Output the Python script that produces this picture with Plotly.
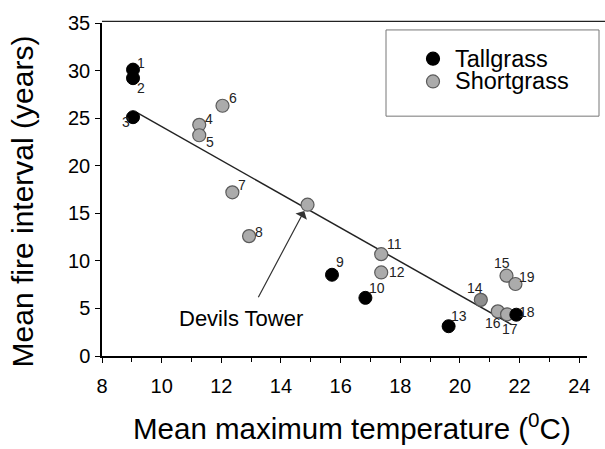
import plotly.graph_objects as go

# ---- data ----
tall_id = ["1", "2", "3", "9", "10", "13", "18"]
tall_x = [9.04, 9.04, 9.04, 15.71, 16.83, 19.62, 21.89]
tall_y = [30.1, 29.2, 25.1, 8.54, 6.11, 3.13, 4.34]

short_id = ["4", "5", "6", "7", "8", "", "11", "12", "14", "15", "19", "16", "17"]
short_x = [11.26, 11.26, 12.04, 12.37, 12.93, 14.89, 17.36, 17.36, 20.70, 21.56, 21.86, 21.27, 21.58]
short_y = [24.3, 23.2, 26.3, 17.2, 12.6, 15.9, 10.7, 8.78, 5.9, 8.44, 7.57, 4.69, 4.38]

fit_x = [9.16, 21.73]
fit_y = [25.6, 3.3]

devils_tower = (14.89, 15.9)

x_ticks = [8, 10, 12, 14, 16, 18, 20, 22, 24]
y_ticks = [0, 5, 10, 15, 20, 25, 30, 35]

# ---- styling / label placement (pixels) ----
label_offsets = {
    "1": (8, -7), "2": (8, 10), "3": (-7, 5), "4": (10, -6), "5": (11, 7),
    "6": (10, -8), "7": (10, -7), "8": (10, -4), "9": (8, -13), "10": (12, -10),
    "11": (13, -10), "12": (16, 0), "13": (10, -10), "14": (-6, -12),
    "15": (-4, -13), "19": (12, -7), "16": (-5, 12), "17": (3, 15), "18": (11, -3),
}
FONT = "Liberation Sans, Arial, sans-serif"
W, H = 605, 449
L, R, T, B = 102, 18, 20, 93
PW, PH = W - L - R, H - T - B


def px2paper(px, py):
    return (px - L) / PW, (H - B - py) / PH


fig = go.Figure()

fig.add_trace(go.Scatter(x=fit_x, y=fit_y, mode="lines",
                         line=dict(color="#222222", width=1.5),
                         showlegend=False, hoverinfo="skip"))

short_colors = ["#8e8e8e" if s == "14" else "#ababab" for s in short_id]
fig.add_trace(go.Scatter(x=short_x, y=short_y, mode="markers", name="Shortgrass",
                         marker=dict(size=13, color=short_colors,
                                     line=dict(color="#5a5a5a", width=1.2)),
                         showlegend=False))
fig.add_trace(go.Scatter(x=tall_x, y=tall_y, mode="markers", name="Tallgrass",
                         marker=dict(size=13, color="black",
                                     line=dict(color="black", width=1)),
                         showlegend=False))

annotations = []
for ids, xs, ys in ((tall_id, tall_x, tall_y), (short_id, short_x, short_y)):
    for i, xv, yv in zip(ids, xs, ys):
        if not i:
            continue
        dx, dy = label_offsets[i]
        annotations.append(dict(x=xv, y=yv, text=i, showarrow=False,
                                xshift=dx, yshift=-dy,
                                font=dict(family=FONT, size=14, color="#222222")))

# Devils Tower arrow and label
annotations.append(dict(x=devils_tower[0], y=devils_tower[1], text="",
                        showarrow=True, ax=-50, ay=94, axref="pixel", ayref="pixel",
                        arrowhead=1, arrowsize=1.8, arrowwidth=1.2,
                        arrowcolor="#333333", standoff=7))
tx, ty = px2paper(241, 318)
annotations.append(dict(x=tx, y=ty, xref="paper", yref="paper", text="Devils Tower",
                        showarrow=False, xanchor="center", yanchor="middle",
                        font=dict(family=FONT, size=22, color="black")))

# axis titles
tx, ty = px2paper(352, 448)
annotations.append(dict(x=tx, y=ty, xref="paper", yref="paper",
                        text="Mean maximum temperature (<sup>0</sup>C)",
                        showarrow=False, xanchor="center", yanchor="bottom",
                        font=dict(family=FONT, size=29.5, color="black")))
tx, ty = px2paper(22, 200)
annotations.append(dict(x=tx, y=ty, xref="paper", yref="paper",
                        text="Mean fire interval (years)", textangle=-90,
                        showarrow=False, xanchor="center", yanchor="middle",
                        font=dict(family=FONT, size=30, color="black")))

# manual legend
shapes = []
lx0, ly1 = px2paper(386, 27)
lx1, ly0 = px2paper(599, 114)
shapes.append(dict(type="rect", xref="paper", yref="paper", x0=lx0, x1=lx1, y0=ly0, y1=ly1,
                   line=dict(color="#777777", width=1), fillcolor="rgba(0,0,0,0)"))
for name, py, fill, edge in (("Tallgrass", 56.0, "black", "black"),
                             ("Shortgrass", 79.0, "#ababab", "#5a5a5a")):
    mx, my = px2paper(433, py)
    shapes.append(dict(type="circle", xref="paper", yref="paper",
                       xsizemode="pixel", ysizemode="pixel",
                       xanchor=mx, yanchor=my, x0=-6.5, x1=6.5, y0=-6.5, y1=6.5,
                       fillcolor=fill, line=dict(color=edge, width=1.2)))
    txp, typ = px2paper(453, py)
    annotations.append(dict(x=txp, y=typ, xref="paper", yref="paper", text=name,
                            showarrow=False, xanchor="left", yanchor="middle",
                            font=dict(family=FONT, size=23.5, color="black")))

# top frame line
shapes.append(dict(type="line", xref="paper", yref="paper", x0=0, x1=(W - L) / PW,
                   y0=1.005, y1=1.005, line=dict(color="#222222", width=1.3)))

fig.update_layout(
    width=W, height=H,
    margin=dict(l=L, r=R, t=T, b=B),
    paper_bgcolor="white", plot_bgcolor="white",
    showlegend=False,
    annotations=annotations, shapes=shapes,
    font=dict(family=FONT, color="black"),
)
fig.update_xaxes(range=[8, 8 + (587 - L) / 29.83], tickvals=x_ticks,
                 ticks="outside", ticklen=5, tickwidth=1.2, tickcolor="black",
                 minor=dict(dtick=1, ticks="outside", ticklen=4, tickcolor="black"),
                 showline=True, linecolor="black", linewidth=1.5,
                 showgrid=False, zeroline=False, ticklabelstandoff=6,
                 tickfont=dict(family=FONT, size=20, color="black"))
fig.update_yaxes(range=[0, 35], tickvals=y_ticks,
                 ticks="outside", ticklen=5, tickwidth=1.2, tickcolor="black",
                 showline=True, linecolor="black", linewidth=1.5,
                 showgrid=False, zeroline=False, ticklabelstandoff=1,
                 tickfont=dict(family=FONT, size=20, color="black"))

fig.write_html("out.html", config={"displayModeBar": False},
               post_script="document.body.style.margin='0';document.body.style.overflow='hidden';")
